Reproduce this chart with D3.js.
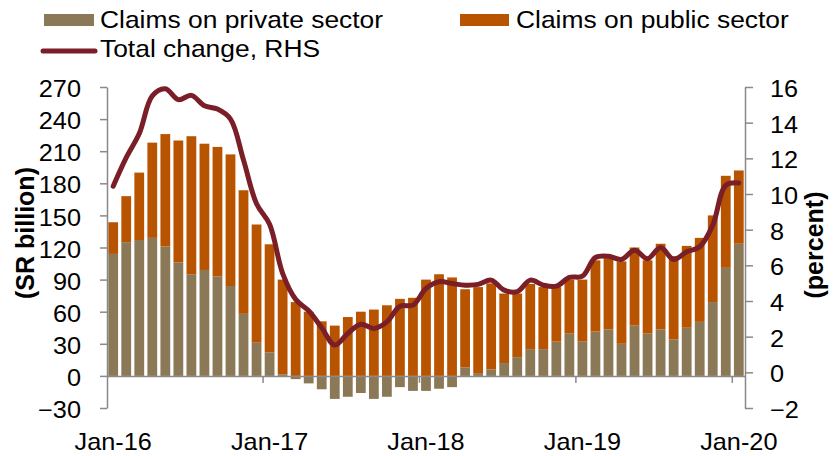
<!DOCTYPE html>
<html>
<head>
<meta charset="utf-8">
<script src="https://cdn.jsdelivr.net/npm/d3@7"></script>
<style>
  body { margin: 0; background: #fff; }
  svg { display: block; font-family: "Liberation Sans", Arial, sans-serif; }
</style>
</head>
<body>
<svg id="chart" width="834" height="456"></svg>
<script>
// monthly categories, Jan-16 .. Jan-20
var months = [
  "Jan-16","Feb-16","Mar-16","Apr-16","May-16","Jun-16","Jul-16","Aug-16","Sep-16","Oct-16","Nov-16","Dec-16",
  "Jan-17","Feb-17","Mar-17","Apr-17","May-17","Jun-17","Jul-17","Aug-17","Sep-17","Oct-17","Nov-17","Dec-17",
  "Jan-18","Feb-18","Mar-18","Apr-18","May-18","Jun-18","Jul-18","Aug-18","Sep-18","Oct-18","Nov-18","Dec-18",
  "Jan-19","Feb-19","Mar-19","Apr-19","May-19","Jun-19","Jul-19","Aug-19","Sep-19","Oct-19","Nov-19","Dec-19",
  "Jan-20"
]
var tickMonths = ["Jan-16","Jan-17","Jan-18","Jan-19","Jan-20"]

// SR billion
var privateSector = [
  114, 125, 127, 129, 121, 106, 95, 99, 93, 84, 58, 31,
  22, 1.5, -3, -7, -12.5, -21.5, -19.5, -16, -21.5, -19.5, -10.5, -14,
  -14, -12, -10.5, 8, 2, 6, 12, 17.5, 25, 25, 32, 39.5,
  32, 41.5, 43.5, 30, 47, 39.5, 43.5, 34, 45, 50.5, 69, 101,
  123.5
]
var publicSector = [
  29.6, 43, 63, 89, 105, 114, 129, 118, 121, 123, 115.5, 110.5,
  101, 88.5, 69, 60, 51, 47, 55, 60, 62, 66, 72, 73,
  90, 95, 92, 73, 81, 80.5, 65, 59.5, 61, 58, 51, 50.5,
  58, 66.5, 67.5, 77, 73, 68.5, 80, 78, 76.5, 78.5, 81, 86,
  68.5
]
// percent, RHS
var totalChange = [
  10.44, 12.04, 13.39, 15.5, 15.9, 15.29, 15.53, 14.95, 14.76, 14.2, 11.9, 9.45,
  8.3, 5.55, 4.09, 3.45, 2.5, 1.53, 2.18, 2.7, 2.46, 2.83, 3.71, 3.77,
  4.7, 5.08, 4.98, 4.89, 4.93, 5.17, 4.61, 4.52, 5.17, 4.89, 4.83, 5.32,
  5.39, 6.44, 6.51, 6.33, 6.85, 6.37, 7.0, 6.33, 6.76, 7.04, 8.25, 10.49,
  10.62
]
var leftTicks = [-30, 0, 30, 60, 90, 120, 150, 180, 210, 240, 270]
var rightTicks = [-2, 0, 2, 4, 6, 8, 10, 12, 14, 16]

var cPrivate = "#8B7857", cPublic = "#B85400", cLine = "#7A1E28", cAxis = "#898989"
var stretch = "scale(1.1,1)"   // source text is slightly wide

var svg = d3.select("#chart")
var plotL = 107, plotR = 745, plotT = 87, plotB = 408

var x = d3.scaleBand().domain(months).range([plotL, plotR]).paddingInner(0.25).paddingOuter(0.1)
var yL = d3.scaleLinear().domain([-30, 270]).range([plotB, plotT])
var yR = d3.scaleLinear().domain([-2, 16]).range([plotB, plotT])
var y0 = yL(0)

// bars: private from zero, public stacked on positive private (or from zero)
var rows = months.map(function(m, i) {
  return {m: m, p: privateSector[i], g: publicSector[i]}
})
svg.append("g").selectAll("rect").data(rows).enter().append("rect")
  .attr("x", function(d) { return x(d.m) })
  .attr("width", x.bandwidth())
  .attr("y", function(d) { return d.p >= 0 ? yL(d.p) : y0 })
  .attr("height", function(d) { return Math.abs(yL(d.p) - y0) })
  .attr("fill", cPrivate)
svg.append("g").selectAll("rect").data(rows).enter().append("rect")
  .attr("x", function(d) { return x(d.m) })
  .attr("width", x.bandwidth())
  .attr("y", function(d) { var base = Math.max(d.p, 0); return yL(base + d.g) })
  .attr("height", function(d) { var base = Math.max(d.p, 0); return yL(base) - yL(base + d.g) })
  .attr("fill", cPublic)

// left axis
var gL = svg.append("g").attr("transform", "translate(" + plotL + ",0)")
  .call(d3.axisLeft(yL).tickValues(leftTicks).tickSize(7).tickSizeOuter(0))
gL.selectAll("text").attr("x", null).attr("dy", "0.42em")
  .attr("transform", "translate(-26,0) " + stretch)
// right axis
var gR = svg.append("g").attr("transform", "translate(" + plotR + ",0)")
  .call(d3.axisRight(yR).tickValues(rightTicks).tickSize(8).tickSizeOuter(0))
gR.selectAll("text").attr("x", null).attr("dy", "0.42em")
  .attr("transform", "translate(25,0) " + stretch)
// x axis at zero, ticks sit between categories
var gX = svg.append("g").attr("transform", "translate(0," + y0 + ")")
  .call(d3.axisBottom(x).tickValues(tickMonths).tickSize(0).tickSizeOuter(0))
gX.selectAll("text").attr("y", null).attr("dy", null)
  .attr("transform", "translate(0,74) " + stretch)
var tx = -x.bandwidth() / 2 - x.step() * 0.125
gX.selectAll(".tick").filter(function(d) { return d != "Jan-16" }).append("line")
  .attr("x1", tx).attr("x2", tx).attr("y1", 0).attr("y2", 7)

svg.selectAll(".domain, .tick line").attr("stroke", cAxis).attr("stroke-width", 1.5)
svg.selectAll(".tick text").attr("font-size", 23).attr("fill", "#000")
  .attr("font-family", "Liberation Sans, Arial, sans-serif")

// total change line (RHS)
var line = d3.line()
  .x(function(d, i) { return x(months[i]) + x.bandwidth() / 2 })
  .y(function(d) { return yR(d) })
  .curve(d3.curveCatmullRom)
svg.append("path").datum(totalChange)
  .attr("d", line).attr("fill", "none")
  .attr("stroke", cLine).attr("stroke-width", 5).attr("stroke-linecap", "round")

// axis titles
svg.append("text").attr("transform", "translate(34,233) rotate(-90)")
  .attr("text-anchor", "middle").attr("font-weight", "bold").attr("font-size", 25)
  .text("(SR billion)")
svg.append("text").attr("transform", "translate(823,245) rotate(-90)")
  .attr("text-anchor", "middle").attr("font-weight", "bold").attr("font-size", 25)
  .text("(percent)")

// legend
var lg = svg.append("g").attr("font-size", 24)
lg.append("rect").attr("x", 44).attr("y", 14).attr("width", 50).attr("height", 12).attr("fill", cPrivate)
lg.append("text").attr("transform", "translate(100,28) " + stretch).text("Claims on private sector")
lg.append("rect").attr("x", 460).attr("y", 14).attr("width", 49).attr("height", 12).attr("fill", cPublic)
lg.append("text").attr("transform", "translate(516,28) " + stretch).text("Claims on public sector")
lg.append("line").attr("x1", 43).attr("x2", 95).attr("y1", 51).attr("y2", 51)
  .attr("stroke", cLine).attr("stroke-width", 5).attr("stroke-linecap", "round")
lg.append("text").attr("transform", "translate(100,57) " + stretch).text("Total change, RHS")
</script>
</body>
</html>
